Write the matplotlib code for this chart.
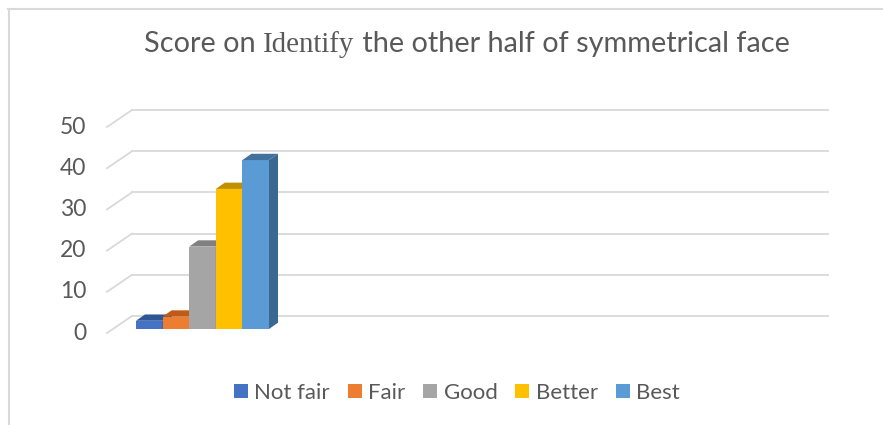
import matplotlib.pyplot as plt
from matplotlib.patches import Polygon, Rectangle, Patch
from matplotlib.lines import Line2D

categories = ['Not fair', 'Fair', 'Good', 'Better', 'Best']
scores = [2, 3, 20, 34, 41]
y_ticks = [0, 10, 20, 30, 40, 50]

front_col = ['#4472C4', '#ED7D31', '#A5A5A5', '#FFC000', '#5B9BD5']
top_col = ['#2F5597', '#C05A16', '#808080', '#C09000', '#41719C']
side_col = ['#2E5290', '#B0561A', '#787878', '#B88A00', '#3A6890']

W, H = 883, 425
txt = '#595959'
grid = '#d9d9d9'
sans = ['Lato', 'DejaVu Sans']

fig = plt.figure(figsize=(W / 100, H / 100), dpi=100)
ax = fig.add_axes([0, 0, 1, 1])
ppu = 4.12          # pixels per score point
floor = 92          # front floor height above bottom edge, px
ax.set_xlim(0, W)
ax.set_ylim(-floor / ppu, (H - floor) / ppu)
ax.axis('off')

# 3-D depth of the plot floor / walls
wall_dx, wall_dy = 25, 17 / ppu
x_front, x_back_end = 107, 828

for t in y_ticks:
    ax.plot([x_front, x_front + wall_dx], [t, t + wall_dy], color=grid, lw=1.3, zorder=1)
    ax.plot([x_front + wall_dx, x_back_end], [t + wall_dy, t + wall_dy], color=grid, lw=1.3, zorder=1)
    ax.text(x_front - 21, t, str(t), ha='right', va='center', fontsize=16.5,
            color=txt, family=sans)

# bars sit a quarter of the way into the depth
bw = 26.6
bx0 = 136
by0 = 4 / ppu
sdx, sdy = 9, 6.3 / ppu
for i, v in enumerate(scores):
    x = bx0 + i * bw
    ax.add_patch(Rectangle((x, by0), bw, v, facecolor=front_col[i], edgecolor='none', zorder=3 + i))
    ax.add_patch(Polygon([(x, by0 + v), (x + bw, by0 + v), (x + bw + sdx, by0 + v + sdy),
                          (x + sdx, by0 + v + sdy)], closed=True,
                         facecolor=top_col[i], edgecolor='none', zorder=3 + i))
    ax.add_patch(Polygon([(x + bw, by0), (x + bw + sdx, by0 + sdy), (x + bw + sdx, by0 + v + sdy),
                          (x + bw, by0 + v)], closed=True,
                         facecolor=side_col[i], edgecolor='none', zorder=3 + i))

# title in three pieces, the middle word set in a serif face
pieces = [('Score on ', sans), ('Identify', ['Liberation Serif', 'DejaVu Serif']),
          (' the other half of symmetrical face', sans)]
base_y = (H - 52 - floor) / ppu
renderer = fig.canvas.get_renderer()
objs = []
for s, fam in pieces:
    objs.append(ax.text(0, base_y, s, fontsize=20.8, color=txt, family=fam, va='baseline', ha='left'))
widths = [o.get_window_extent(renderer).width for o in objs]
x = 467 - sum(widths) / 2
for o, w in zip(objs, widths):
    o.set_x(x)
    x += w

handles = [Patch(facecolor=c, edgecolor='none') for c in front_col]
fig.legend(handles, categories, loc='center', bbox_to_anchor=(457 / W, 1 - 393 / H), ncol=5,
           frameon=False, labelcolor=txt, prop={'family': sans, 'size': 16},
           handlelength=0.62, handleheight=0.62, handletextpad=0.3, columnspacing=0.8)

# chart area border (top and left edges)
fig.add_artist(Line2D([8 / W, 1], [1 - 9 / H, 1 - 9 / H], transform=fig.transFigure, color=grid, lw=1.5))
fig.add_artist(Line2D([9 / W, 9 / W], [0, 1 - 9 / H], transform=fig.transFigure, color=grid, lw=1.5))

fig.savefig('out.png', dpi=100)
